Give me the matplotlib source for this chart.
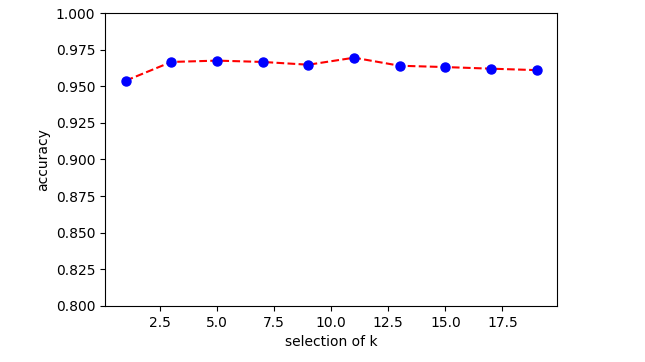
import matplotlib
matplotlib.use("Agg")
import matplotlib.pyplot as plt

k_values = [1, 3, 5, 7, 9, 11, 13, 15, 17, 19]
accuracy = [0.9538, 0.9666, 0.9675, 0.9666, 0.9647, 0.9695, 0.9640, 0.9631, 0.9620, 0.9610]

fig = plt.figure(figsize=(6.45, 3.62), dpi=100)
ax = fig.add_axes([0.163, 0.155, 0.701, 0.809])
ax.plot(k_values, accuracy, color='red', linestyle='dashed', marker='o',
        markerfacecolor='blue', markeredgecolor='blue', markersize=6.5)
ax.set_ylim(0.8, 1.0)
ax.set_xlabel('selection of k')
ax.set_ylabel('accuracy')
fig.savefig('out.png', dpi=100)
